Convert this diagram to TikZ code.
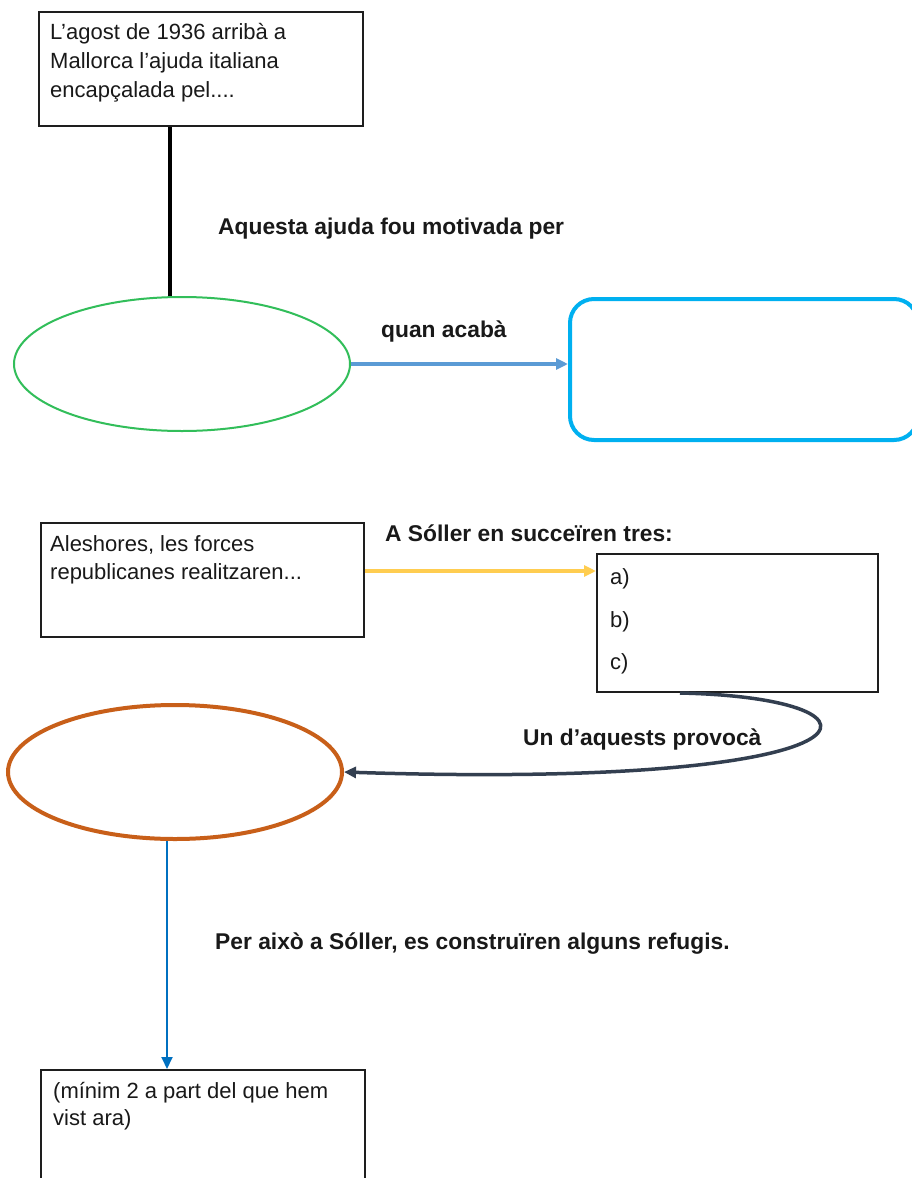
\documentclass[tikz,border=0pt]{standalone}
\usepackage{fontspec}
\setmainfont{Liberation Sans}
\usetikzlibrary{arrows.meta,shapes.geometric}
\definecolor{boxline}{RGB}{30,30,30}
\definecolor{txtcol}{RGB}{25,25,25}
\definecolor{greenell}{RGB}{50,190,90}
\definecolor{arrowblue}{RGB}{91,155,213}
\definecolor{roundblue}{RGB}{0,176,240}
\definecolor{yellowarr}{RGB}{255,205,80}
\definecolor{darknavy}{RGB}{51,63,80}
\definecolor{orangeell}{RGB}{200,95,25}
\definecolor{bottomblue}{RGB}{0,112,192}
\begin{document}
\begin{tikzpicture}[x=1pt,y=-1pt,
  box/.style={draw=boxline,line width=2pt,rectangle,inner sep=0pt,anchor=north west},
  line/.style={font=\fontsize{22}{28}\selectfont,text=txtcol,anchor=base west,inner sep=0pt},
  lbl/.style={font=\fontsize{22.8}{28}\selectfont\bfseries,text=txtcol,anchor=base west,inner sep=0pt},
  tip/.style={-{Triangle[length=12pt,width=11pt]}}
]
\useasboundingbox (0,0) rectangle (912,1178);
\fill[white] (0,0) rectangle (912,1178);
\begin{scope}
\clip (0,0) rectangle (912,1178);

% top box
\node[box,minimum width=324pt,minimum height=114pt] (b1) at (38,11) {};
\node[line] (t1a) at (50,39) {L’agost de 1936 arribà a};
\node[line] (t1b) at (50,68) {Mallorca l’ajuda italiana};
\node[line] (t1c) at (50,97) {encapçalada pel....};

% green ellipse
\node[ellipse,draw=greenell,line width=2pt,minimum width=336pt,minimum height=134pt,inner sep=0pt] (e1) at (182,364) {};

% rounded blue rectangle
\node[draw=roundblue,line width=4pt,rounded corners=24pt,minimum width=348pt,minimum height=141pt,inner sep=0pt,anchor=north west] (r1) at (568,297) {};

\coordinate (c1) at (170,0);
\draw[black,line width=3.5pt] (b1.south -| c1) -- (e1.north -| c1);
\node[lbl] (l1) at (218,234) {Aquesta ajuda fou motivada per};

\draw[arrowblue,line width=3.5pt,tip] (e1.east) -- (e1.east -| r1.west);
\node[lbl] (l2) at (381,337) {quan acabà};

% second row
\node[box,minimum width=323pt,minimum height=114pt] (b2) at (40,522) {};
\node[line] (t2a) at (50,551) {Aleshores, les forces};
\node[line] (t2b) at (50,579) {republicanes realitzaren...};

\node[lbl] (l3) at (385,541) {A Sóller en succeïren tres:};

\node[box,minimum width=281pt,minimum height=138pt] (b3) at (596,553) {};
\node[line] (t3a) at (610,584) {a)};
\node[line] (t3b) at (610,627) {b)};
\node[line] (t3c) at (610,669) {c)};

\coordinate (c2) at (0,571);
\draw[yellowarr,line width=3.5pt,tip] (b2.east |- c2) -- (b3.west |- c2);

% orange ellipse
\node[ellipse,draw=orangeell,line width=4pt,minimum width=334pt,minimum height=134pt,inner sep=0pt] (e2) at (175,772) {};

\coordinate (c3) at (680,0);
\draw[darknavy,line width=3.5pt,tip] (b3.south -| c3) .. controls (910,698) and (895,790) .. (e2.east);
\node[lbl] (l4) at (523,745) {Un d’aquests provocà};

% bottom box
\node[box,minimum width=324pt,minimum height=140pt] (b4) at (40,1069) {};
\node[line] (t4a) at (53,1098) {(mínim 2 a part del que hem};
\node[line] (t4b) at (53,1125) {vist ara)};

\coordinate (c4) at (167,0);
\draw[bottomblue,line width=1.8pt,tip] (e2.south -| c4) -- (b4.north -| c4);
\node[lbl] (l5) at (215,949) {Per això a Sóller, es construïren alguns refugis.};
\end{scope}
\end{tikzpicture}
\end{document}
